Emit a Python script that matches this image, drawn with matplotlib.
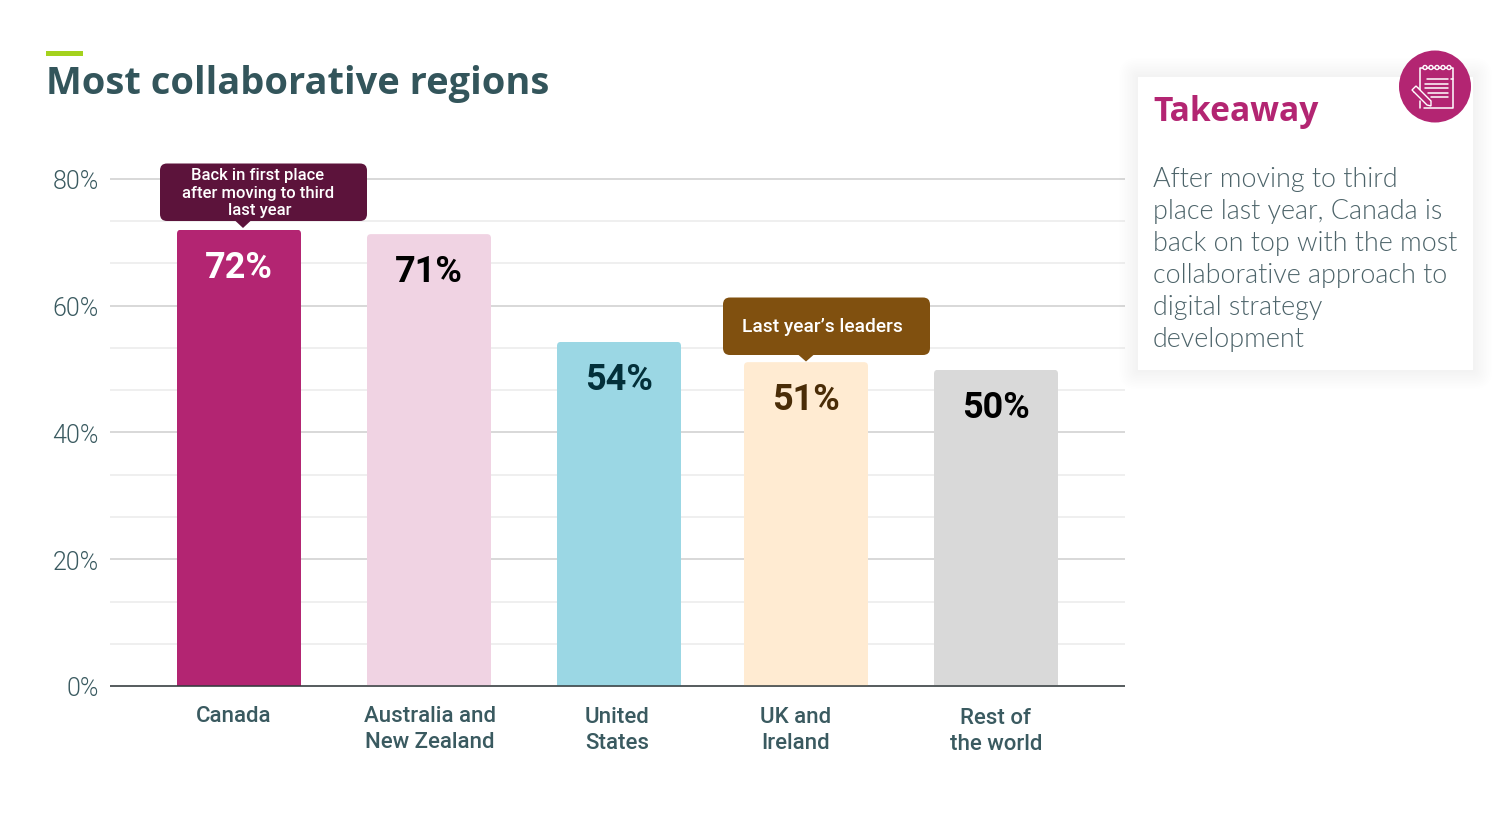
import matplotlib
matplotlib.use("Agg")
import matplotlib.pyplot as plt
from matplotlib.patches import FancyBboxPatch, Circle, Polygon, Rectangle
from matplotlib.transforms import ScaledTranslation

# ---- data ----
categories = ["Canada", "Australia and\nNew Zealand", "United\nStates", "UK and\nIreland", "Rest of\nthe world"]
values = [72, 71.3, 54.3, 51.1, 49.9]
value_labels = ["72%", "71%", "54%", "51%", "50%"]
bar_colors = ["#B32572", "#F0D3E3", "#9BD7E4", "#FFEBD2", "#D9D9D9"]
label_colors = ["#FFFFFF", "#000000", "#03303A", "#4A2C07", "#000000"]
major_ticks = [0, 20, 40, 60, 80]
minor_ticks = [6.67, 13.33, 26.67, 33.33, 46.67, 53.33, 66.67, 73.33]
bar_centres = [239, 429, 619, 806, 996]
label_centres = [233.5, 430, 617, 795.5, 996]

W, H = 1503, 833
px = 0.72
fig = plt.figure(figsize=(W / 100, H / 100), dpi=100, facecolor="white")

# overlay in pixel coordinates for page furniture
page = fig.add_axes([0, 0, 1, 1], zorder=3)
page.set_xlim(0, W); page.set_ylim(H, 0); page.axis("off"); page.patch.set_alpha(0)

ax = fig.add_axes([110 / W, 1 - 686 / H, (1125 - 110) / W, (686 - 179) / H], zorder=1)
ax.set_xlim(110, 1125); ax.set_ylim(0, 80)
for s in ["top", "left", "right"]:
    ax.spines[s].set_visible(False)
ax.spines["bottom"].set_color("#333B3D"); ax.spines["bottom"].set_linewidth(1.1)
ax.spines["bottom"].set_capstyle("butt")
ax.set_axisbelow(True)
ax.set_yticks(major_ticks); ax.set_yticks(minor_ticks, minor=True)
ax.set_yticklabels([f"{t}%" for t in major_ticks], fontfamily="Roboto", fontweight=300, fontsize=25 * px, color="#3A5A60")
ax.tick_params(axis="y", which="both", length=0, pad=8)
for lab in ax.get_yticklabels():
    lab.set_transform(lab.get_transform() + ScaledTranslation(0, -1 / 100, fig.dpi_scale_trans))
ax.grid(axis="y", which="major", color="#D6D6D6", lw=1.3)
ax.grid(axis="y", which="minor", color="#EBEBEB", lw=1.1)
for l in ax.get_ygridlines():
    l.set_clip_on(False)
    l.set_solid_capstyle("butt")

# bars
bars = ax.bar(bar_centres, values, width=124, color=bar_colors, linewidth=0, zorder=2)
ax.figure.canvas.draw()
for b in bars:
    x0, y0 = ax.transData.transform((b.get_x(), 0))
    x1, y1 = ax.transData.transform((b.get_x() + b.get_width(), b.get_height()))
    clip = FancyBboxPatch((x0 + 4, y0 - 20), x1 - x0 - 8, y1 - y0 + 16,
                          boxstyle="round,pad=4,rounding_size=4", transform=None)
    b.set_clip_path(clip)

# bar value labels
for c, v, t, col in zip(bar_centres, values, value_labels, label_colors):
    ax.annotate(t, (c, v), xytext=(0, -38 * px), textcoords="offset points", ha="center", va="center",
                fontfamily="Roboto", fontweight="bold", fontsize=36 * px, color=col, zorder=4)

# category labels
ax.set_xticks(label_centres)
ax.set_xticklabels(categories, fontfamily="Roboto", fontweight=500, fontsize=22.3 * px,
                   color="#3A5A60", linespacing=1.3)
ax.tick_params(axis="x", length=0, pad=15)
for lab, dy in zip(ax.get_xticklabels(), [-1, -1, 0, 0, 1]):
    lab.set_transform(lab.get_transform() + ScaledTranslation(0, -dy / 100, fig.dpi_scale_trans))

# title
page.add_patch(Rectangle((46, 50.5), 37, 5.5, color="#A4D21D", lw=0))
page.text(46, 84, "Most collaborative regions", fontfamily="Open Sans", fontweight="bold",
          fontsize=38 * px, color="#33555B", va="center", ha="left")

# callouts
def callout(x0, y0, x1, y1, tipx, tipy, color):
    page.add_patch(FancyBboxPatch((x0 + 7, y0 + 7), x1 - x0 - 14, y1 - y0 - 14,
                                  boxstyle="round,pad=7,rounding_size=7", fc=color, ec="none", zorder=5))
    page.add_patch(Polygon([(tipx - 8, y1 - 0.5), (tipx + 8, y1 - 0.5), (tipx, tipy)], fc=color, ec="none", zorder=5))

callout(160, 163.5, 367, 221, 243, 228, "#5C133B")
callout(723, 297.5, 930, 355, 806, 361.5, "#80500F")
for x, y, s in [(258, 175, "Back in first place"), (258, 193.5, "after moving to third"), (260, 210.5, "last year")]:
    page.text(x, y, s, ha="center", va="center", color="#FFFFFF", fontfamily="Roboto", fontweight=500,
              fontsize=16.6 * px, zorder=6)
page.text(742, 326.5, "Last year\u2019s leaders", ha="left", va="center", color="#FFFFFF", fontfamily="Roboto",
          fontweight=500, fontsize=19.1 * px, zorder=6)

# takeaway card with soft shadow
for i in range(12, 0, -1):
    page.add_patch(FancyBboxPatch((1138, 77), 335, 293, boxstyle=f"round,pad={i * 1.6},rounding_size={i * 1.6}",
                                  fc="#000000", ec="none", alpha=0.0025, zorder=1))
page.add_patch(Rectangle((1138, 77), 335, 293, fc="#FFFFFF", ec="none", zorder=2))
page.text(1153.5, 112, "Takeaway", fontfamily="Open Sans", fontweight="bold", fontsize=33.7 * px,
          color="#B32572", va="center", ha="left", zorder=3)
body = ["After moving to third", "place last year, Canada is", "back on top with the most",
        "collaborative approach to", "digital strategy", "development"]
for i, line in enumerate(body):
    page.text(1153, 179.7 + 32 * i, line, fontfamily="Lato", fontweight=300, fontsize=26.9 * px,
              color="#4C6369", va="center", ha="left", zorder=3)

# notebook icon
page.add_patch(Circle((1435, 86.5), 36, fc="#B32572", ec="none", zorder=4))
w = dict(color="white", lw=1.1, zorder=5, solid_capstyle="round")
page.plot([1420, 1420, 1453, 1453, 1424], [93, 68, 68, 108, 108], **w)
page.plot([1420, 1420], [101, 108], **w)
for x in [1425, 1431, 1437, 1443, 1449]:
    page.add_patch(Circle((x, 67.5), 2.0, fc="#B32572", ec="white", lw=1, zorder=5))
for y, x0 in [(79, 1427), (83.5, 1425), (88, 1425), (92.5, 1428), (97, 1431)]:
    page.plot([x0, 1448], [y, y], **w)
page.plot([1451, 1453], [79, 79], **w)
page.add_patch(Polygon([(1412, 90), (1416, 86), (1431, 101), (1431, 106), (1427, 105)],
                       fc="#B32572", ec="white", lw=1, zorder=6))
page.plot([1414, 1418], [92, 88], **w)

fig.savefig("out.png", dpi=100, facecolor="white")
